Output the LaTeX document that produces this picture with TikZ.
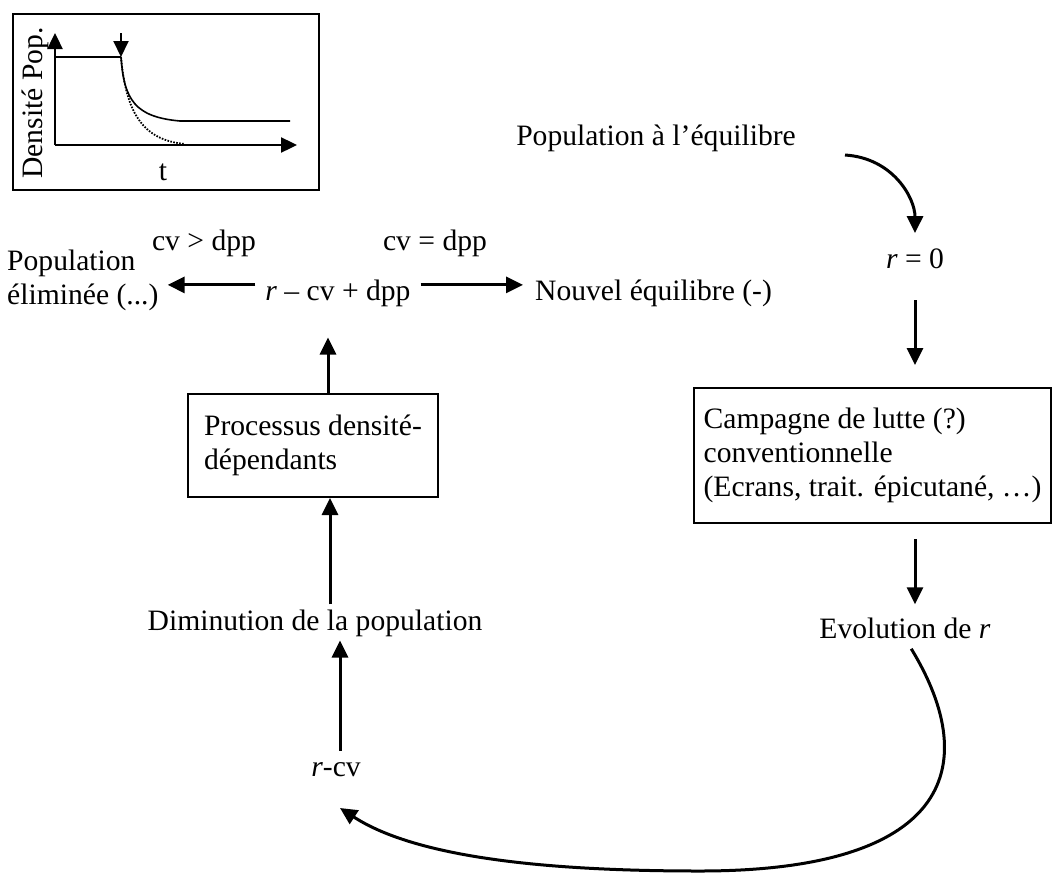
\documentclass[tikz,border=0pt]{standalone}
\usepackage{fontspec}
\setmainfont{Liberation Serif}
\usetikzlibrary{arrows.meta}
\begin{document}
\begin{tikzpicture}[x=1pt,y=-1pt,
  txt/.style={inner sep=0pt, font=\fontsize{29.6}{34}\selectfont},
  box/.style={draw, line width=2pt, inner sep=0pt, align=left,
              font=\fontsize{29.6}{34}\selectfont, anchor=north west},
  conn/.style={line width=3pt, -{Triangle[length=17pt,width=16pt]}},
  axis/.style={line width=2.4pt, -{Triangle[length=16pt,width=15pt]}},
  curveline/.style={line width=1.6pt},
]
\useasboundingbox (0,0) rectangle (1054,873);

% ---------- small inset graph ----------
\node[draw, line width=2pt, minimum width=306pt, minimum height=176pt,
      inner sep=0pt, anchor=north west] (inset) at (12,13) {};
\coordinate (O) at (55,145);
\coordinate (yTop) at (55,33);
\coordinate (xEnd) at (297,145);
\coordinate (drop) at (121,57);
\coordinate (dropTop) at (121,33);
\draw[axis] (O) -- (yTop);
\draw[axis] (O) -- (xEnd);
\draw[curveline] (O |- drop) -- (drop);
\draw[axis, line width=2pt] (dropTop) -- (drop);
\draw[curveline] (drop) .. controls (124,100) and (135,117) .. (180,121) -- (290,121);
\draw[line width=1.8pt, dash pattern=on 1.6pt off 1.4pt]
      (drop) .. controls (126,112) and (142,140) .. (185,144);
\node[txt, rotate=90, anchor=base] (ylab) at (42,103) {Densité Pop.};
\node[txt, anchor=base] (tlab) at (163,180) {t};

% ---------- right-hand chain ----------
\node[txt, anchor=base] (eq) at (656,145) {Population à l’équilibre};
\node[txt, anchor=base] (r0) at (915,268) {\textit{r} = 0};
\node[box, minimum width=357pt, minimum height=135pt] (camp) at (693,387)
     {Campagne de lutte (?)\\conventionnelle\\(Ecrans, trait. épicutané, …)};
\node[txt, anchor=base] (evo) at (905,638) {Evolution de \textit{r}};

\coordinate (eqOut) at (845,155);
\draw[conn, shorten >=15pt] (eqOut) .. controls (893,158) and (915,198) .. (r0.north);
\draw[conn, shorten <=32pt, shorten >=22pt] (r0.south) -- (r0.south |- camp.north);
\draw[conn, shorten <=15pt, shorten >=13pt] (r0.south |- camp.south) -- (r0.south |- evo.north);

% ---------- left-hand chain ----------
\node[txt, anchor=base] (rcv) at (336,776) {\textit{r}-cv};
\node[txt, anchor=base] (dim) at (315,630) {Diminution de la population};
\node[box, minimum width=250pt, minimum height=103pt] (proc) at (187,393)
     {Processus densité-\\dépendants};
\node[txt, anchor=base] (main) at (338,300) {\textit{r} – cv + dpp};
\node[txt, anchor=north west, align=left] (elim) at (7,250) {Population\\éliminée (...)};
\node[txt, anchor=base west] (nouv) at (535,300) {Nouvel équilibre (-)};
\node[txt, anchor=base] (cvgt) at (204,250) {cv > dpp};
\node[txt, anchor=base] (cveq) at (435,250) {cv = dpp};

\coordinate (loopEnd) at (340,808);
\draw[conn, shorten <=12pt] (evo.south) .. controls (985,770) and (945,871) .. (700,871)
      .. controls (560,871) and (420,860) .. (loopEnd);

\draw[conn, shorten <=11pt, shorten >=4pt] (rcv.north -| loopEnd) -- (dim.south -| loopEnd);
\draw[conn, shorten <=5pt] ([xshift=-10pt]dim.north -| loopEnd) -- ([xshift=-10pt]proc.south -| loopEnd);
\draw[conn, shorten >=31pt] ([xshift=-12pt]proc.north -| loopEnd) -- ([xshift=-12pt]main.south -| loopEnd);

\draw[conn, shorten <=10pt, shorten >=9pt] ([yshift=8pt]main.west) -- ([yshift=8pt]main.west -| elim.east);
\draw[conn, shorten <=10pt, shorten >=12pt] ([yshift=8pt]main.east) -- ([yshift=8pt]main.east -| nouv.west);
\end{tikzpicture}
\end{document}
